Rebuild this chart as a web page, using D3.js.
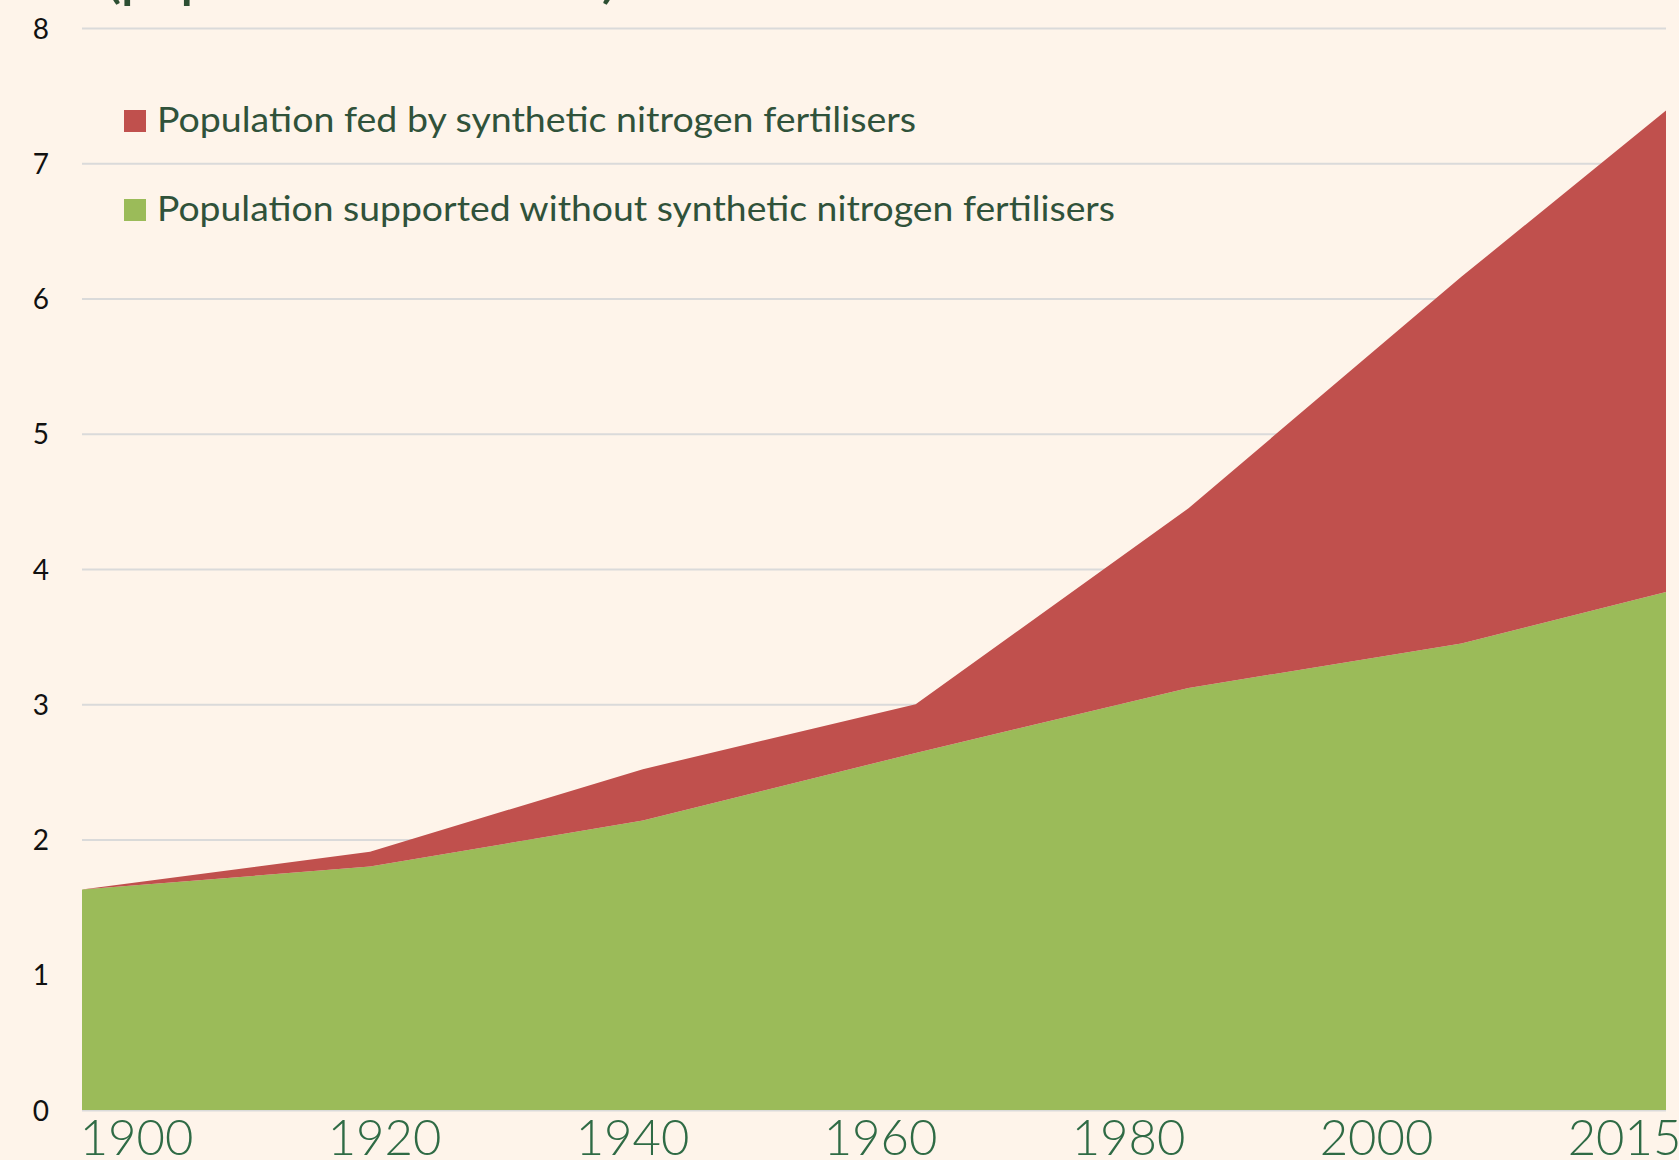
<!DOCTYPE html>
<html>
<head>
<meta charset="utf-8">
<script src="https://cdn.jsdelivr.net/npm/d3@7"></script>
<style>
  html, body { margin: 0; padding: 0; background: #fef4ea; }
  svg { display: block; }
</style>
</head>
<body>
<svg id="chart" width="1679" height="1160"></svg>
<script>
// ---- data ----
const years = [1900, 1920, 1940, 1960, 1980, 2000, 2015];
const withoutFertiliser = [1.63, 1.80, 2.14, 2.64, 3.12, 3.45, 3.83];
const fedByFertiliser   = [0.00, 0.11, 0.38, 0.36, 1.33, 2.71, 3.56];
const seriesNames = [
  "Population fed by synthetic nitrogen fertilisers",
  "Population supported without synthetic nitrogen fertilisers"
];
const xTickLabels = ["1900", "1920", "1940", "1960", "1980", "2000", "2015"];
const yTicks = [0, 1, 2, 3, 4, 5, 6, 7, 8];
const title = "(population in billions)";

(function () {
  const rows = years.map((yr, i) => ({ year: yr, without: withoutFertiliser[i], fed: fedByFertiliser[i] }));

  const svg = d3.select("#chart");
  const W = 1679, H = 1160;
  svg.append("rect").attr("width", W).attr("height", H).attr("fill", "#fef4ea");

  const pLeft = 82, pRight = 1666, pTop = 28, pBottom = 1110;

  const x = d3.scaleLinear().domain([1900, 1920, 2015]).range([pLeft, 370, pRight]);
  const y = d3.scaleLinear().domain([0, 8]).range([pBottom, pTop]);

  // gridlines
  svg.append("g").selectAll("line").data(yTicks).join("line")
    .attr("x1", pLeft).attr("x2", pRight)
    .attr("y1", d => y(d) + 0.5).attr("y2", d => y(d) + 0.5)
    .attr("stroke", "#dadada").attr("stroke-width", 2);

  // stacked areas
  const stacked = d3.stack().keys(["without", "fed"])(rows);
  const colors = { without: "#9bbb59", fed: "#c0504d" };
  const area = d3.area()
    .x(d => x(d.data.year))
    .y0(d => y(d[0]))
    .y1(d => y(d[1]));
  svg.append("g").selectAll("path").data(stacked).join("path")
    .attr("d", area)
    .attr("fill", d => colors[d.key]);

  // y axis labels
  const yAxis = d3.axisLeft(y).tickValues(yTicks).tickSize(0).tickPadding(0).tickFormat(d3.format("d"));
  const gy = svg.append("g").attr("transform", "translate(49,0)").call(yAxis);
  gy.select(".domain").remove();
  gy.selectAll("text")
    .attr("font-family", "Lato, 'Noto Sans', sans-serif")
    .attr("font-size", 28)
    .attr("fill", "#111")
    .attr("dy", "0.36em");

  // x axis labels (evenly spaced label row)
  const xl = d3.scalePoint().domain(xTickLabels).range([136, 1624]);
  const xAxis = d3.axisBottom(xl).tickSize(0).tickPadding(0);
  const gx = svg.append("g").attr("transform", "translate(0,1155)").call(xAxis);
  gx.select(".domain").remove();
  gx.selectAll("text")
    .attr("font-family", "Lato, 'Noto Sans', sans-serif")
    .attr("font-weight", 300)
    .attr("font-size", 49)
    .attr("fill", "#2f6b45")
    .attr("dy", 0)
    .attr("y", 0);

  // legend
  const legendColors = [colors.fed, colors.without];
  const legendY = [132, 221];
  const legendW = [759, 958];
  const lg = svg.append("g");
  seriesNames.forEach((name, i) => {
    lg.append("rect")
      .attr("x", 124).attr("y", legendY[i] - 22)
      .attr("width", 22).attr("height", 22)
      .attr("fill", legendColors[i]);
    lg.append("text")
      .attr("x", 157).attr("y", legendY[i])
      .attr("font-family", "Lato, 'Noto Sans', sans-serif")
      .attr("font-size", 35)
      .attr("fill", "#30523a")
      .attr("textLength", legendW[i])
      .attr("lengthAdjust", "spacingAndGlyphs")
      .text(name);
  });

  // title (mostly cropped at the top)
  svg.append("text")
    .attr("x", 107).attr("y", -2)
    .attr("font-family", "Lato, 'Noto Sans', sans-serif")
    .attr("font-size", 44)
    .attr("font-weight", 600)
    .attr("fill", "#2d4f33")
    .attr("textLength", 509)
    .attr("lengthAdjust", "spacingAndGlyphs")
    .text(title);
})();
</script>
</body>
</html>
